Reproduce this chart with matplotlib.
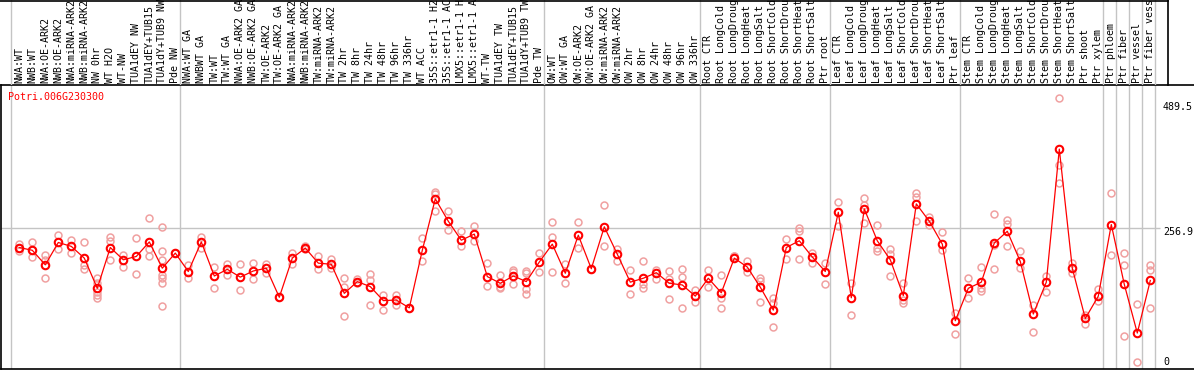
import matplotlib
matplotlib.use("Agg")
import matplotlib.pyplot as plt
from matplotlib.lines import Line2D
from matplotlib.transforms import blended_transform_factory

# ---------------- data ----------------
gene_id = "Potri.006G230300"

labels = [
    "NWA:WT", "NWB:WT", "NWA:OE-ARK2", "NWB:OE-ARK2", "NWA:miRNA-ARK2", "NWB:miRNA-ARK2",
    "NW 0hr", "WT H2O", "WT-NW", "TUA1dEY NW", "TUA1dEY+TUB15", "TUA1dY+TUB9 NW", "Pde NW",
    "NWA:WT GA", "NWBWT GA", "TW:WT", "TW:WT GA", "NWA:OE-ARK2 GA", "NWB:OE-ARK2 GA",
    "TW:OE-ARK2", "TW:OE-ARK2 GA", "NWA:miRNA-ARK2", "NWB:miRNA-ARK2", "TW:miRNA-ARK2",
    "TW:miRNA-ARK2", "TW 2hr", "TW 8hr", "TW 24hr", "TW 48hr", "TW 96hr", "TW 336hr",
    "WT ACC", "35S::etr1-1 H2", "35S::etr1-1 AC", "LMX5::etr1-1 H", "LMX5::etr1-1 A",
    "WT-TW", "TUA1dEY TW", "TUA1dEY+TUB15", "TUA1dY+TUB9 TW", "Pde TW",
    "OW:WT", "OW:WT GA", "OW:OE-ARK2", "OW:OE-ARK2 GA", "OW:miRNA-ARK2", "OW:miRNA-ARK2",
    "OW 2hr", "OW 8hr", "OW 24hr", "OW 48hr", "OW 96hr", "OW 336hr",
    "Root CTR", "Root LongCold", "Root LongDroug", "Root LongHeat", "Root LongSalt",
    "Root ShortCold", "Root ShortDrou", "Root ShortHeat", "Root ShortSalt", "Ptr root",
    "Leaf CTR", "Leaf LongCold", "Leaf LongDroug", "Leaf LongHeat", "Leaf LongSalt",
    "Leaf ShortCold", "Leaf ShortDrou", "Leaf ShortHeat", "Leaf ShortSalt", "Ptr leaf",
    "Stem CTR", "Stem LongCold", "Stem LongDroug", "Stem LongHeat", "Stem LongSalt",
    "Stem ShortCold", "Stem ShortDrou", "Stem ShortHeat", "Stem ShortSalt", "Ptr shoot",
    "Ptr xylem", "Ptr phloem", "Ptr fiber", "Ptr vessel", "Ptr fiber vess",
]

means = [
    222, 217, 191, 231, 224, 203, 149, 222, 200, 206, 232, 185, 212,
    179, 232, 171, 183, 169, 180, 185, 133, 203, 221, 194, 192, 140, 161, 152, 127, 128, 114,
    217, 309, 269, 235, 246, 170, 158, 171, 161, 196,
    228, 176, 244, 184, 259, 210, 160, 167, 177, 158, 155, 135,
    167, 141, 203, 187, 151, 110, 222, 234, 205, 179,
    285, 132, 291, 234, 200, 136, 300, 269, 228, 91,
    149, 160, 230, 251, 197, 103, 160, 398, 185, 95,
    135, 263, 156, 69, 163,
]

replicates = [
    [229, 222, 215], [231, 217, 205], [209, 200, 167], [244, 219], [235, 213], [231, 191, 184],
    [167, 158, 143, 137, 132], [240, 234, 200], [209, 188], [239, 174], [274, 219, 206],
    [258, 216, 200, 173, 167, 158, 117], [212, 212],
    [191, 167], [241, 221], [187, 149], [193, 173], [192, 146], [194, 165], [193, 177],
    [133, 133], [213, 192], [225, 219], [206, 183], [201, 185], [167, 152, 100], [165, 158],
    [174, 163, 119], [137, 110], [137, 119], [114, 114],
    [239, 198], [322, 318, 288], [288, 253], [252, 225], [261, 234], [194, 153],
    [173, 149, 152], [182, 178, 156], [180, 176, 148, 139], [212, 179],
    [267, 240, 178], [192, 158], [267, 222], [184, 184], [298, 225], [219, 198],
    [182, 138], [198, 156, 149], [182, 165], [180, 165, 129], [184, 169, 114], [146, 125],
    [182, 152], [173, 131, 113], [207, 207], [198, 178], [168, 162, 124], [132, 122, 79],
    [237, 201], [256, 252, 201], [212, 194], [195, 156],
    [303, 261], [158, 101], [310, 298, 265], [262, 222, 215], [219, 210, 171],
    [158, 128, 122], [320, 313, 269], [277, 262], [250, 218], [104, 67],
    [168, 131], [188, 150, 145], [282, 226, 184], [272, 264, 224], [215, 185],
    [119, 70], [171, 142], [489.5, 369, 337], [194, 176], [102, 85],
    [147, 126], [320, 209], [212, 190, 63], [121, 17], [190, 182, 114],
]

# index of first category of each group (the last entry closes the final group)
group_starts = [0, 13, 41, 53, 63, 73, 84, 85, 86, 87, 88]

axis_labels = ["489.5", "256.9", "0"]
axis_values = [489.5, 256.9, 0]

# ---------------- styling ----------------
W, H = 1194, 370
RED = "#ff0000"
PINK = "#f0a0a0"
GRAY = "#c4c4c4"
MONO = "DejaVu Sans Mono"
FS = 7.2

def fx(px):
    return px / W

def fy(py):
    return 1 - py / H

# pixel <-> data mapping used to set limits
X0, DX = 19.3, 13.0
Y0, DY = 371.6, 0.559

def i_of(px):
    return (px - X0) / DX

def v_of(py):
    return (Y0 - py) / DY

fig = plt.figure(figsize=(W / 100, H / 100), dpi=100)

ax = fig.add_axes([fx(1), fy(369), (W - 1) / W, (369 - 85) / H])
ax.set_xlim(i_of(1), i_of(W))
ax.set_ylim(v_of(369), v_of(85))
ax.set_xticks([])
ax.set_yticks([])
for s in ["left", "bottom", "top"]:
    ax.spines[s].set_color("black")
    ax.spines[s].set_linewidth(1.2)
ax.spines["right"].set_visible(False)

hdr = fig.add_axes([fx(1), fy(85), (W - 1) / W, 85 / H])
hdr.set_xlim(i_of(1), i_of(W))
hdr.set_ylim(0, 1)
hdr.axis("off")

# group separators
for g in group_starts:
    xg = g - 8 / DX
    ax.axvline(xg, color=GRAY, lw=1.0, zorder=0)
    hdr.axvline(xg, color=GRAY, lw=1.0, zorder=0)

# reference gridline
ax.hlines(256.9, i_of(1), i_of(1160), color=GRAY, lw=1.0, zorder=0)

# replicates
for i, reps in enumerate(replicates):
    ax.plot([i] * len(reps), reps, linestyle="none", marker="o", markersize=5.0,
            markerfacecolor="none", markeredgecolor=PINK, markeredgewidth=1.1, zorder=2)

# mean line + markers
xs = list(range(len(means)))
ax.plot(xs, means, color=RED, lw=0.9, zorder=3)
ax.plot(xs, means, linestyle="none", marker="o", markersize=5.4,
        markerfacecolor="none", markeredgecolor=RED, markeredgewidth=1.5, zorder=4)

# header labels
tr = blended_transform_factory(ax.transData, fig.transFigure)
for i, lab in enumerate(labels):
    fig.text(i, fy(83), lab, transform=tr, rotation=90, ha="center", va="bottom",
             family=MONO, fontsize=FS, color="black")

# header borders
fig.add_artist(Line2D([0, fx(1168)], [fy(0.5), fy(0.5)], color="black", lw=1.2))
fig.add_artist(Line2D([fx(1168), fx(1168)], [fy(0), fy(85)], color="black", lw=1.2))

# gene id
fig.text(fx(8), fy(97), gene_id, color=RED, family=MONO, fontsize=FS,
         ha="left", va="center")

# right-hand value labels
label_py = [107, 232, 362]
for lab, py in zip(axis_labels, label_py):
    fig.text(fx(1163), fy(py), lab, color="black", family=MONO, fontsize=FS,
             ha="left", va="center")

fig.savefig("out.png", dpi=100)
